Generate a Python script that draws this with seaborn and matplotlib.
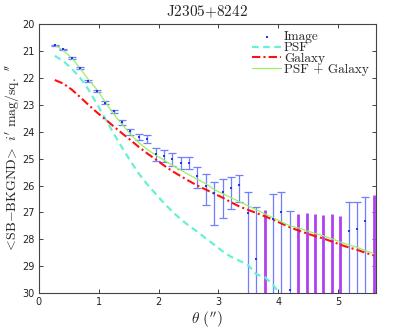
import numpy as np
import pandas as pd
import matplotlib
matplotlib.use('Agg')
import matplotlib.pyplot as plt
import seaborn as sns

# radius grid (arcsec)
theta = [0.27, 0.41, 0.55, 0.69, 0.83, 0.97, 1.11, 1.25, 1.39, 1.53,
         1.67, 1.81, 1.95, 2.09, 2.23, 2.37, 2.51, 2.65, 2.79, 2.93,
         3.07, 3.21, 3.35, 3.49, 3.63, 3.77, 3.91, 4.05, 4.19, 4.33,
         4.47, 4.61, 4.75, 4.89, 5.03, 5.17, 5.31, 5.45, 5.59]

# measured profile (nan = no detection, drawn as purple bar)
img_mag = [20.78, 20.93, 21.24, 21.63, 22.10, 22.48, 22.91, 23.24, 23.65, 23.98,
           24.18, 24.25, 24.84, 24.89, 25.02, 25.15, 25.17, 25.63, 26.02, 26.28,
           26.25, 26.10, 25.98, 27.03, 28.72, np.nan, 27.24, 27.00, 29.90, np.nan,
           np.nan, np.nan, np.nan, np.nan, np.nan, 27.68, 27.63, 27.31, np.nan]
img_top = [20.76, 20.91, 21.21, 21.60, 22.06, 22.44, 22.86, 23.18, 23.56, 23.88,
           24.07, 24.12, 24.60, 24.68, 24.80, 24.92, 24.95, 25.30, 25.58, 25.85,
           25.77, 25.67, 25.60, 26.25, 26.79, 26.91, 26.32, 26.25, 26.95, 27.06,
           27.03, 27.06, 27.10, 27.06, 27.12, 26.60, 26.62, 26.44, 26.35]
img_bot = [20.80, 20.95, 21.27, 21.66, 22.14, 22.52, 22.97, 23.31, 23.74, 24.10,
           24.30, 24.40, 25.10, 25.12, 25.26, 25.40, 25.40, 26.08, 26.72, 27.47,
           27.22, 26.88, 26.60, 31.0, 31.0, 31.0, 31.0, 31.0, 31.0, 31.0,
           31.0, 31.0, 31.0, 31.0, 31.0, 31.0, 31.0, 31.0, 31.0]

psf_theta = theta[:28]
psf_mag = [21.17, 21.36, 21.64, 21.98, 22.42, 22.95, 23.50, 24.05, 24.58, 25.08,
           25.55, 25.95, 26.30, 26.65, 26.97, 27.25, 27.50, 27.72, 27.97, 28.20,
           28.45, 28.65, 28.80, 28.95, 29.30, 29.40, 29.70, 30.10]

gal_mag = [22.07, 22.20, 22.42, 22.70, 22.99, 23.27, 23.53, 23.79, 24.05, 24.30,
           24.56, 24.80, 25.02, 25.25, 25.46, 25.65, 25.83, 26.00, 26.15, 26.30,
           26.45, 26.62, 26.78, 26.90, 27.02, 27.14, 27.27, 27.41, 27.55, 27.67,
           27.78, 27.88, 27.97, 28.08, 28.20, 28.30, 28.39, 28.50, 28.60]

tot_mag = [20.76, 20.97, 21.24, 21.63, 22.05, 22.42, 22.88, 23.33, 23.72, 24.08,
           24.40, 24.65, 24.86, 25.05, 25.25, 25.42, 25.60, 25.77, 25.93, 26.15,
           26.30, 26.45, 26.60, 26.75, 26.90, 27.05, 27.20, 27.35, 27.50, 27.57,
           27.68, 27.78, 27.87, 27.98, 28.10, 28.20, 28.30, 28.42, 28.53]

sns.set_style('ticks')
plt.rcParams['mathtext.fontset'] = 'cm'

df = pd.DataFrame({'theta': theta, 'img': img_mag, 'top': img_top, 'bot': img_bot,
                   'gal': gal_mag, 'tot': tot_mag})
df_psf = pd.DataFrame({'theta': psf_theta, 'psf': psf_mag})

fig = plt.figure(figsize=(4.15, 3.3), dpi=100)
ax = fig.add_axes([0.093, 0.112, 0.812, 0.814])

det = df[df['img'].notna()]
nodet = df[df['img'].isna()]

# error bars of the detected points
ax.errorbar(det['theta'], det['img'],
            yerr=[det['img'] - det['top'], det['bot'] - det['img']],
            fmt='none', ecolor='#6f7fff', elinewidth=0.9, capsize=2.6,
            capthick=0.9, zorder=2)
# upper limits
ax.vlines(nodet['theta'], nodet['top'], nodet['bot'], color='#b040f0',
          linewidth=2.0, zorder=2)

sns.scatterplot(data=det, x='theta', y='img', ax=ax, color='#2030ff', s=2,
                marker='s', linewidth=0, label='Image', zorder=4)
sns.lineplot(data=df_psf, x='theta', y='psf', ax=ax, color='#66f2d2',
             linewidth=1.6, linestyle=(0, (3, 2)), label='PSF', zorder=3)
sns.lineplot(data=df, x='theta', y='gal', ax=ax, color='#ff1010',
             linewidth=1.5, linestyle=(0, (4, 1.5, 1, 1.5)), label='Galaxy', zorder=3)
sns.lineplot(data=df, x='theta', y='tot', ax=ax, color='#99f060',
             linewidth=0.9, label='PSF + Galaxy', zorder=3)

ax.set_xlim(0, 5.62)
ax.set_ylim(30, 20)
ax.set_xticks([0, 1, 2, 3, 4, 5])
ax.set_yticks(range(20, 31))
ax.tick_params(direction='in', top=True, right=True, length=3, width=0.6,
               labelsize=7, pad=3, colors='#222222')
for s in ax.spines.values():
    s.set_linewidth(0.8)
    s.set_color('#444444')

ax.set_title(r'$\mathrm{J2305{+}8242}$', fontsize=11, pad=6)
ax.set_xlabel(r'$\theta\ (^{\prime\prime})$', fontsize=11, labelpad=2)
ax.set_ylabel(r'$<\!\mathrm{SB{-}BKGND}\!>\ i^{\prime}\ \mathrm{mag/sq.}\ ^{\prime\prime}$',
              fontsize=10, labelpad=1)

leg = ax.legend(loc='upper right', frameon=False, handlelength=2.2,
                handletextpad=0.2, labelspacing=-0.1, borderaxespad=0.1,
                prop={'family': 'cmr10', 'size': 9.5})
leg.legend_handles[0].set_sizes([2])

fig.savefig('out.png', dpi=100)
